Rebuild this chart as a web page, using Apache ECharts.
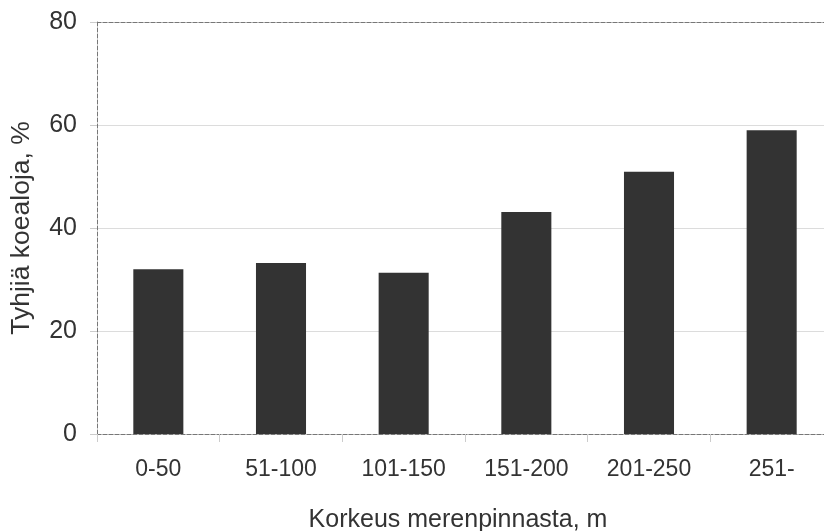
<!DOCTYPE html>
<html><head><meta charset="utf-8">
<script src="https://cdn.jsdelivr.net/npm/echarts@6/dist/echarts.min.js"></script>
<style>html,body{margin:0;padding:0;background:#fff}#c{width:824px;height:531px}</style>
</head><body><div id="c"></div>
<script>
var categories = ['0-50','51-100','101-150','151-200','201-250','251-'];
var values = [32.0, 33.2, 31.3, 43.1, 50.9, 59.0];
var yTicks = [0, 20, 40, 60, 80];
var chart = echarts.init(document.getElementById('c'), null, {renderer:'canvas'});
var font = 'Liberation Sans, Arial, sans-serif';
chart.setOption({
  animation: false,
  grid: {left: 97, right: -9, top: 22, bottom: 97, containLabel: false, outerBoundsMode: 'none'},
  xAxis: [{
    type: 'category', data: categories,
    axisLine: {lineStyle: {color: '#777', type: 'dashed', width: 1}},
    axisTick: {show: true, length: 8, lineStyle: {color: '#ccc'}},
    axisLabel: {color: '#333', fontSize: 23, fontFamily: font, margin: 24},
    name: 'Korkeus merenpinnasta, m', nameLocation: 'middle', nameGap: 74,
    nameTextStyle: {color: '#333', fontSize: 25, fontFamily: font, padding: [0, 14, 0, 0]}
  },{
    type: 'category', data: categories, position: 'top',
    axisLine: {lineStyle: {color: '#777', type: 'dashed', width: 1}},
    axisTick: {show: false}, axisLabel: {show: false}
  }],
  yAxis: {
    type: 'value', min: yTicks[0], max: yTicks[yTicks.length-1], interval: 20,
    axisLine: {show: true, lineStyle: {color: '#777', type: 'dashed', width: 1}},
    axisTick: {show: true, length: 7, lineStyle: {color: '#ccc'}},
    splitLine: {show: true, lineStyle: {color: '#dcdcdc', width: 1}},
    axisLabel: {color: '#333', fontSize: 25, fontFamily: font, margin: 20},
    name: 'Tyhjiä koealoja, %', nameLocation: 'middle', nameGap: 62,
    nameTextStyle: {color: '#333', fontSize: 26.5, fontFamily: font}
  },
  series: [{
    type: 'bar', data: values, barWidth: '40.8%',
    itemStyle: {color: '#333333'}
  }]
});
</script></body></html>
